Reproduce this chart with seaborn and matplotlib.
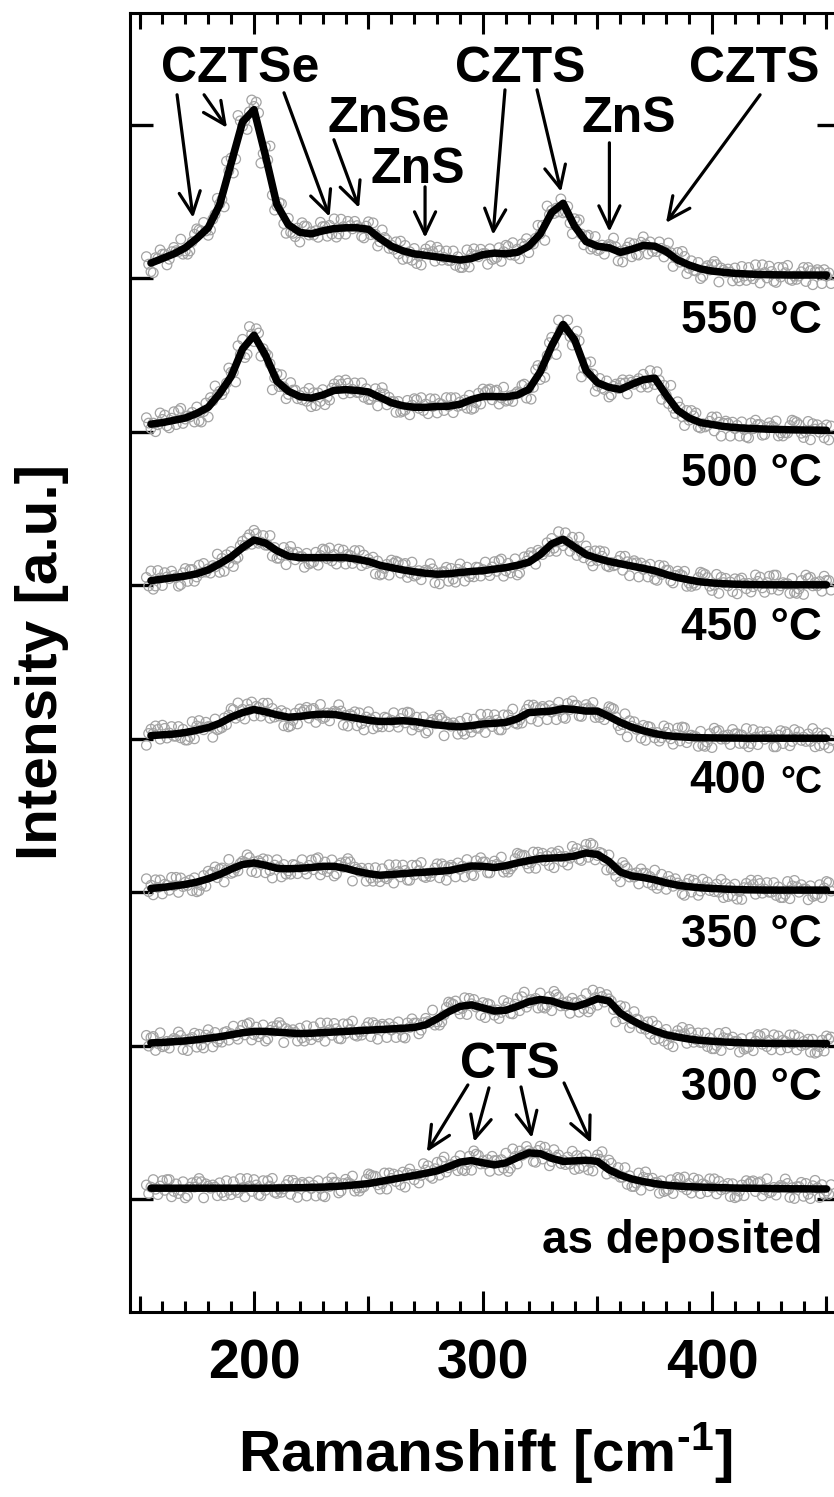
import numpy as np
import pandas as pd
import matplotlib.pyplot as plt
import seaborn as sns

# ------------------------------------------
# Data
# ------------------------------------------

# Raman shift grid of the fitted curves [cm^-1]
shift = np.arange(155, 451, 5)

samples = ['as deposited', '300 °C', '350 °C', '400 °C', '450 °C', '500 °C', '550 °C']
offsets = [0, 1, 2, 3, 4, 5, 6]

fit_asdep = [0.070, 0.070, 0.070, 0.070, 0.070, 0.070, 0.070, 0.070, 0.070, 0.070,
             0.070, 0.071, 0.072, 0.073, 0.075, 0.077, 0.081, 0.086, 0.093, 0.100,
             0.113, 0.127, 0.140, 0.153, 0.167, 0.183, 0.210, 0.240, 0.250, 0.235,
             0.222, 0.235, 0.270, 0.300, 0.295, 0.265, 0.245, 0.248, 0.252, 0.245,
             0.190, 0.155, 0.130, 0.113, 0.100, 0.090, 0.084, 0.080, 0.077, 0.075,
             0.073, 0.071, 0.070, 0.069, 0.068, 0.067, 0.066, 0.066, 0.065, 0.065]

fit_300 = [0.017, 0.020, 0.025, 0.030, 0.038, 0.047, 0.057, 0.070, 0.083, 0.092,
           0.092, 0.087, 0.082, 0.078, 0.080, 0.084, 0.088, 0.092, 0.096, 0.100,
           0.104, 0.108, 0.112, 0.118, 0.135, 0.175, 0.220, 0.255, 0.265, 0.245,
           0.225, 0.230, 0.255, 0.285, 0.300, 0.290, 0.265, 0.252, 0.275, 0.305,
           0.290, 0.210, 0.165, 0.126, 0.095, 0.070, 0.055, 0.042, 0.033, 0.028,
           0.023, 0.020, 0.017, 0.015, 0.014, 0.013, 0.013, 0.013, 0.013, 0.013]

fit_350 = [0.024, 0.030, 0.040, 0.050, 0.065, 0.087, 0.115, 0.150, 0.180, 0.190,
           0.175, 0.155, 0.152, 0.155, 0.160, 0.168, 0.168, 0.155, 0.135, 0.120,
           0.110, 0.115, 0.120, 0.126, 0.130, 0.135, 0.140, 0.155, 0.170, 0.168,
           0.160, 0.172, 0.190, 0.205, 0.218, 0.222, 0.225, 0.235, 0.255, 0.245,
           0.200, 0.130, 0.105, 0.095, 0.080, 0.060, 0.045, 0.035, 0.028, 0.024,
           0.020, 0.017, 0.015, 0.014, 0.013, 0.013, 0.013, 0.013, 0.013, 0.013]

fit_400 = [0.020, 0.025, 0.030, 0.040, 0.055, 0.072, 0.100, 0.140, 0.170, 0.190,
           0.175, 0.155, 0.140, 0.145, 0.155, 0.160, 0.158, 0.145, 0.133, 0.120,
           0.112, 0.113, 0.117, 0.112, 0.100, 0.090, 0.082, 0.078, 0.085, 0.096,
           0.100, 0.106, 0.130, 0.170, 0.175, 0.180, 0.195, 0.190, 0.180, 0.180,
           0.145, 0.106, 0.075, 0.052, 0.033, 0.020, 0.013, 0.009, 0.006, 0.005,
           0.004, 0.004, 0.003, 0.003, 0.003, 0.003, 0.003, 0.003, 0.003, 0.003]

fit_450 = [0.030, 0.040, 0.050, 0.060, 0.075, 0.100, 0.140, 0.185, 0.245, 0.295,
           0.275, 0.225, 0.190, 0.180, 0.180, 0.180, 0.180, 0.180, 0.170, 0.155,
           0.130, 0.115, 0.100, 0.088, 0.078, 0.072, 0.075, 0.083, 0.090, 0.095,
           0.105, 0.115, 0.130, 0.150, 0.200, 0.270, 0.300, 0.250, 0.200, 0.175,
           0.155, 0.140, 0.125, 0.110, 0.095, 0.070, 0.050, 0.035, 0.022, 0.015,
           0.010, 0.007, 0.005, 0.004, 0.003, 0.003, 0.003, 0.003, 0.003, 0.003]

fit_500 = [0.050, 0.060, 0.075, 0.090, 0.120, 0.160, 0.250, 0.360, 0.540, 0.630,
           0.500, 0.330, 0.265, 0.230, 0.220, 0.240, 0.270, 0.275, 0.270, 0.260,
           0.225, 0.190, 0.170, 0.160, 0.160, 0.165, 0.167, 0.180, 0.210, 0.230,
           0.230, 0.228, 0.240, 0.276, 0.390, 0.560, 0.700, 0.600, 0.400, 0.320,
           0.290, 0.276, 0.310, 0.340, 0.350, 0.240, 0.140, 0.090, 0.060, 0.048,
           0.035, 0.028, 0.023, 0.020, 0.017, 0.015, 0.013, 0.012, 0.011, 0.010]

fit_550 = [0.100, 0.130, 0.160, 0.200, 0.260, 0.330, 0.480, 0.750, 1.020, 1.100,
           0.800, 0.480, 0.350, 0.300, 0.290, 0.310, 0.325, 0.330, 0.330, 0.320,
           0.260, 0.210, 0.180, 0.160, 0.150, 0.140, 0.130, 0.120, 0.130, 0.155,
           0.165, 0.160, 0.170, 0.210, 0.290, 0.430, 0.490, 0.340, 0.240, 0.210,
           0.200, 0.170, 0.190, 0.215, 0.210, 0.175, 0.120, 0.087, 0.062, 0.048,
           0.040, 0.033, 0.029, 0.026, 0.024, 0.023, 0.022, 0.022, 0.022, 0.022]

fits = [fit_asdep, fit_300, fit_350, fit_400, fit_450, fit_500, fit_550]

# scatter of the measured points around the fit (relative deviations)
resid_a = [0.3, -0.6, 0.8, -0.2, 0.5, -0.9, 0.1, 0.7, -0.4, 0.2,
           -0.7, 0.9, -0.1, 0.4, -0.8, 0.6, 0.0, -0.5, 0.8, -0.3,
           0.5, -0.9, 0.2, 0.6, -0.2, -0.7, 0.9, 0.1, -0.4, 0.7,
           -0.6, 0.3, 0.8, -0.1, -0.8, 0.4, 0.6, -0.3, 0.2, -0.9,
           0.5, 0.1, -0.5, 0.8, -0.2, 0.4, -0.7, 0.9, 0.0, -0.4,
           0.6, -0.8, 0.3, 0.7, -0.1, -0.6, 0.5, 0.2, -0.9, 0.4]
resid_b = [-0.5, 0.2, -0.8, 0.6, 0.1, 0.4, -0.7, -0.2, 0.9, -0.3,
           0.7, -0.4, 0.3, -0.9, 0.5, -0.1, 0.8, 0.2, -0.6, 0.4,
           -0.3, 0.6, -0.7, 0.1, 0.9, 0.2, -0.5, -0.8, 0.4, -0.1,
           0.8, -0.5, 0.1, 0.6, 0.3, -0.7, -0.2, 0.9, -0.6, 0.2,
           -0.4, 0.7, 0.3, -0.8, 0.5, -0.6, 0.2, -0.3, 0.7, 0.8,
           -0.2, 0.4, -0.7, -0.3, 0.9, 0.1, -0.8, 0.6, 0.3, -0.5]
resid_c = [0.1, 0.7, -0.3, -0.9, 0.6, 0.2, 0.5, -0.6, 0.0, 0.8,
           -0.2, -0.5, 0.7, 0.3, -0.1, -0.8, 0.4, 0.6, -0.3, 0.9,
           -0.7, 0.1, 0.5, -0.4, 0.3, 0.8, -0.1, 0.6, -0.9, 0.2,
           0.4, 0.9, -0.6, 0.2, 0.7, -0.3, 0.1, -0.8, 0.5, 0.6,
           0.9, -0.2, -0.7, 0.4, 0.1, -0.5, 0.8, 0.3, -0.6, 0.0,
           0.2, -0.9, 0.7, 0.5, -0.4, 0.3, 0.1, -0.7, 0.8, -0.2]

# (residual set, x offset in cm^-1, extra roll) for each layer of points
point_layers = [(resid_a, -2.0, 0), (resid_b, -1.0, 0), (resid_c, 0.0, 0),
                (resid_a, 1.0, 17), (resid_b, 2.0, 31)]
resid_roll = [0, 7, 13, 21, 29, 37, 45]
noise_amp = 0.07

# peak assignments
peak_labels = ['CZTSe', 'CZTS', 'CZTS', 'ZnSe', 'ZnS', 'ZnS', 'CTS']
peak_label_x = [193.9, 316.2, 418.3, 259.0, 271.6, 363.8, 311.8]
peak_label_y = [7.282, 7.282, 7.282, 6.956, 6.623, 6.956, 0.789]

arrow_tail_x = [166.4, 178.2, 213.1, 234.9, 274.7, 309.6, 323.6, 355.2, 421.0,
                293.4, 302.6, 316.6, 335.4]
arrow_tail_y = [7.197, 7.197, 7.210, 6.904, 6.597, 7.229, 7.229, 6.884, 7.197,
                0.743, 0.724, 0.730, 0.756]
arrow_head_x = [173.4, 188.2, 233.0, 245.9, 274.7, 304.4, 334.1, 355.2, 379.9,
                275.5, 296.1, 321.4, 347.2]
arrow_head_y = [6.395, 6.982, 6.402, 6.460, 6.265, 6.284, 6.565, 6.304, 6.362,
                0.306, 0.372, 0.398, 0.365]

# ------------------------------------------
# Long tables for seaborn
# ------------------------------------------

fit_rows = []
pts_rows = []
for name, off, fit, roll in zip(samples, offsets, fits, resid_roll):
    fit = np.array(fit)
    for x, y in zip(shift, fit):
        fit_rows.append((name, x, y + off))
    for res, dx, extra in point_layers:
        r = np.roll(np.array(res), roll + extra)
        for x, y, e in zip(shift, fit, r):
            pts_rows.append((name, x + dx, y + off + noise_amp * e))

df_fit = pd.DataFrame(fit_rows, columns=['sample', 'shift', 'intensity'])
df_pts = pd.DataFrame(pts_rows, columns=['sample', 'shift', 'intensity'])

# ------------------------------------------
# Plot
# ------------------------------------------

sns.set_style('ticks')
plt.rcParams['font.family'] = ['Liberation Sans', 'DejaVu Sans']
plt.rcParams['font.weight'] = 'bold'
plt.rcParams['mathtext.fontset'] = 'custom'
plt.rcParams['mathtext.rm'] = 'Liberation Sans:bold'
plt.rcParams['mathtext.bf'] = 'Liberation Sans:bold'
plt.rcParams['mathtext.default'] = 'rm'
for key in ['text.color', 'axes.labelcolor', 'xtick.color', 'ytick.color', 'axes.edgecolor']:
    plt.rcParams[key] = 'black'

fig = plt.figure(figsize=(8.34, 14.97), dpi=100)
ax = fig.add_axes([130 / 834, 185 / 1497, 710 / 834, 1299 / 1497])

sns.scatterplot(data=df_pts, x='shift', y='intensity', ax=ax, marker='o', s=48,
                facecolor='none', edgecolor='#a3a3a3', linewidth=0.9,
                legend=False, zorder=2)
for name in samples:
    sub = df_fit[df_fit['sample'] == name]
    sns.lineplot(data=sub, x='shift', y='intensity', ax=ax, color='black',
                 lw=5.4, estimator=None, sort=False, legend=False, zorder=3)

ax.set_xlim(145.85, 455.9)
ax.set_ylim(-0.737, 7.73)

ax.set_xticks([200, 300, 400])
ax.xaxis.set_minor_locator(plt.MultipleLocator(10))
ax.set_yticks(range(0, 8))
ax.set_yticklabels([])
ax.tick_params(axis='x', which='major', direction='in', length=15, width=2.2,
               top=True, bottom=True, labelsize=40, pad=19)
ax.tick_params(axis='x', which='minor', direction='in', length=8, width=2.2,
               top=True, bottom=True)
ax.tick_params(axis='y', which='major', direction='in', length=16.5, width=2.4,
               left=True, right=True)
for sp in ax.spines.values():
    sp.set_linewidth(2.2)
    sp.set_visible(True)

# medium ticks at the 50s
for loc in ['bottom', 'top']:
    sec = ax.secondary_xaxis(loc)
    sec.set_xticks([150, 250, 350, 450])
    sec.tick_params(direction='in', length=11.5, width=2.2,
                    labelbottom=False, labeltop=False)
    sec.spines[loc].set_visible(False)

ax.set_xlabel('Ramanshift [cm$^{\\text{-1}}$]', fontsize=42, fontweight='bold', va='top')
ax.xaxis.set_label_coords(0.5, -0.0831)
ax.set_ylabel('Intensity [a.u.]', fontsize=42, fontweight='bold', va='center')
ax.yaxis.set_label_coords((42 - 130) / 710, 0.5)

# sample labels
for name, off in zip(samples, offsets):
    if name == '400 °C':
        ax.text(423.5, off - 0.355, '400', ha='right', va='baseline',
                fontsize=33, fontweight='bold')
        ax.text(448.0, off - 0.355, '°C', ha='right', va='baseline',
                fontsize=27, fontweight='bold')
    else:
        ax.text(448.0, off - 0.355, name, ha='right', va='baseline',
                fontsize=33, fontweight='bold')

# peak assignments
for lab, x, y in zip(peak_labels, peak_label_x, peak_label_y):
    ax.text(x, y, lab, ha='center', va='baseline', fontsize=36, fontweight='bold')
for tx, ty, hx, hy in zip(arrow_tail_x, arrow_tail_y, arrow_head_x, arrow_head_y):
    ax.annotate('', xy=(hx, hy), xytext=(tx, ty),
                arrowprops=dict(arrowstyle='->,head_length=0.8,head_width=0.38',
                                mutation_scale=20, color='black', lw=2.3,
                                shrinkA=0, shrinkB=0))

fig.savefig('out.png', dpi=100)
